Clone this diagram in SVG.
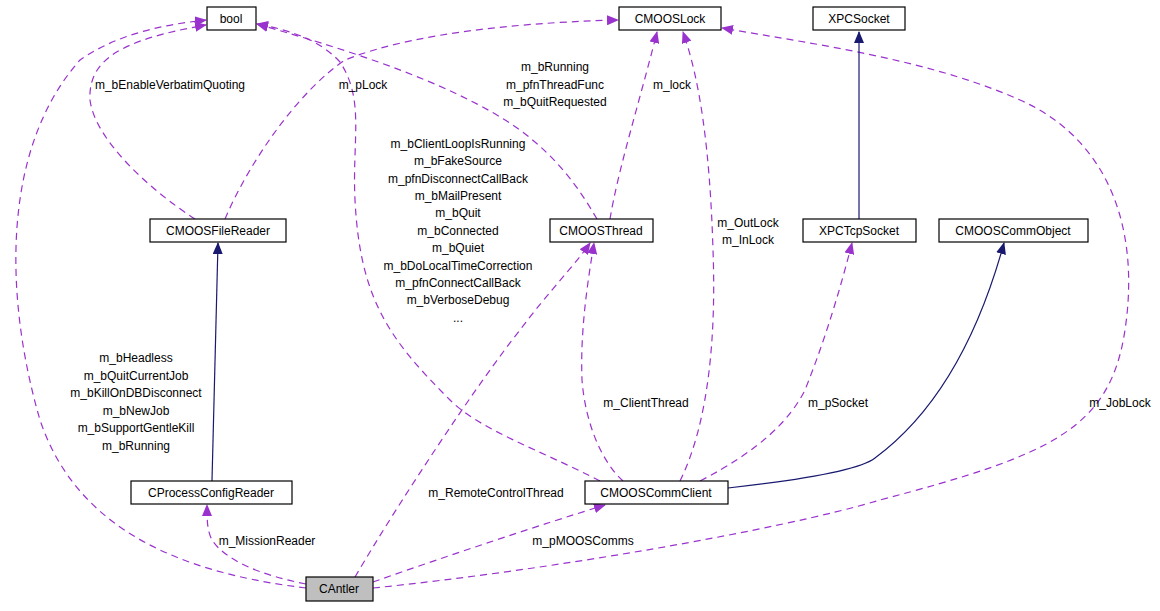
<svg xmlns="http://www.w3.org/2000/svg" width="1160" height="611" viewBox="0 0 1160 611">
<style>
.n rect{fill:#fff;stroke:#000;stroke-width:1.2}
text{font-family:"Liberation Sans",Arial,sans-serif;font-size:12px;fill:#000}
.n text{text-anchor:middle}
.l text{text-anchor:middle}
.d{fill:none;stroke:#9a32cd;stroke-width:1.2;stroke-dasharray:7,5;marker-end:url(#pa)}
.s{fill:none;stroke:#191970;stroke-width:1.2;marker-end:url(#na)}
</style>
<defs>
<marker id="pa" markerWidth="12" markerHeight="10" refX="11" refY="5" orient="auto" markerUnits="userSpaceOnUse"><path d="M0,0L12,5L0,10z" fill="#9a32cd"/></marker>
<marker id="na" markerWidth="12" markerHeight="10" refX="11" refY="5" orient="auto" markerUnits="userSpaceOnUse"><path d="M0,0L12,5L0,10z" fill="#191970"/></marker>
</defs>
<rect width="1160" height="611" fill="#fff"/>
<g id="connectors">
<path class="d" d="M306,588 C200,575 80,540 40,420 C5,300 0,150 80,60 C120,32 170,24 206,20"/>
<path class="d" d="M195,219 C150,190 95,140 90,100 C88,60 120,40 206,25"/>
<path class="d" d="M600,481 C540,450 480,430 450,400 C390,340 360,300 355,200 C352,140 365,100 340,62 C320,40 290,30 257,24"/>
<path class="d" d="M597,219 C580,190 560,160 520,130 C450,80 330,45 257,24"/>
<path class="d" d="M225,219 C250,160 300,90 345,60 C420,30 540,22 618,20"/>
<path class="d" d="M610,219 C618,170 640,100 657,32"/>
<path class="d" d="M680,481 C710,420 716,330 713,250 C710,150 700,80 683,32"/>
<path class="d" d="M373,588 C550,570 780,530 880,500 C1050,455 1110,430 1125,330 C1140,230 1110,140 1020,100 C930,60 820,45 722,28"/>
<path class="s" d="M859,219 L859,32"/>
<path class="s" d="M728,488 C800,480 860,470 875,458 C940,410 980,330 1004,243"/>
<path class="s" d="M212,481 L218,243"/>
<path class="d" d="M700,481 C760,450 790,420 805,390 C825,340 840,290 852,243"/>
<path class="d" d="M623,481 C600,460 585,420 582,380 C580,330 588,280 594,243"/>
<path class="d" d="M355,577 C400,500 480,380 520,330 C550,290 575,265 590,243"/>
<path class="d" d="M306,584 C260,575 225,560 212,540 C207,530 207,520 207,505"/>
<path class="d" d="M373,582 C450,555 540,525 605,505"/>
</g>
<g class="l">
<text x="170" y="89">m_bEnableVerbatimQuoting</text>
<text x="363" y="89">m_pLock</text>
<text x="555" y="71">m_bRunning</text>
<text x="555" y="89">m_pfnThreadFunc</text>
<text x="555" y="106">m_bQuitRequested</text>
<text x="672" y="89">m_lock</text>
<text x="458" y="148">m_bClientLoopIsRunning</text>
<text x="458" y="165">m_bFakeSource</text>
<text x="458" y="183">m_pfnDisconnectCallBack</text>
<text x="458" y="200">m_bMailPresent</text>
<text x="458" y="217">m_bQuit</text>
<text x="458" y="235">m_bConnected</text>
<text x="458" y="252">m_bQuiet</text>
<text x="458" y="270">m_bDoLocalTimeCorrection</text>
<text x="458" y="287">m_pfnConnectCallBack</text>
<text x="458" y="304">m_bVerboseDebug</text>
<text x="458" y="322">...</text>
<text x="748" y="227">m_OutLock</text>
<text x="748" y="244">m_InLock</text>
<text x="136" y="362">m_bHeadless</text>
<text x="136" y="380">m_bQuitCurrentJob</text>
<text x="136" y="397">m_bKillOnDBDisconnect</text>
<text x="136" y="415">m_bNewJob</text>
<text x="136" y="432">m_bSupportGentleKill</text>
<text x="136" y="450">m_bRunning</text>
<text x="646" y="407">m_ClientThread</text>
<text x="838" y="407">m_pSocket</text>
<text x="1120" y="407">m_JobLock</text>
<text x="496" y="497">m_RemoteControlThread</text>
<text x="267" y="545">m_MissionReader</text>
<text x="583" y="545">m_pMOOSComms</text>
</g>
<g id="bool" class="n"><rect x="207" y="7" width="49" height="23"/><text x="231" y="23">bool</text></g>
<g id="CMOOSLock" class="n"><rect x="619" y="7" width="102" height="23"/><text x="670" y="23">CMOOSLock</text></g>
<g id="XPCSocket" class="n"><rect x="813" y="7" width="92" height="23"/><text x="859" y="23">XPCSocket</text></g>
<g id="CMOOSFileReader" class="n"><rect x="150" y="219" width="136" height="23"/><text x="218" y="235">CMOOSFileReader</text></g>
<g id="CMOOSThread" class="n"><rect x="550" y="219" width="103" height="23"/><text x="601" y="235">CMOOSThread</text></g>
<g id="XPCTcpSocket" class="n"><rect x="803" y="219" width="113" height="23"/><text x="859" y="235">XPCTcpSocket</text></g>
<g id="CMOOSCommObject" class="n"><rect x="939" y="219" width="149" height="23"/><text x="1013" y="235">CMOOSCommObject</text></g>
<g id="CProcessConfigReader" class="n"><rect x="131" y="481" width="161" height="23"/><text x="211" y="497">CProcessConfigReader</text></g>
<g id="CMOOSCommClient" class="n"><rect x="585" y="481" width="143" height="23"/><text x="656" y="497">CMOOSCommClient</text></g>
<g id="CAntler" class="n"><rect x="306" y="577" width="67" height="24" style="fill:#bfbfbf"/><text x="339" y="593">CAntler</text></g>
</svg>
